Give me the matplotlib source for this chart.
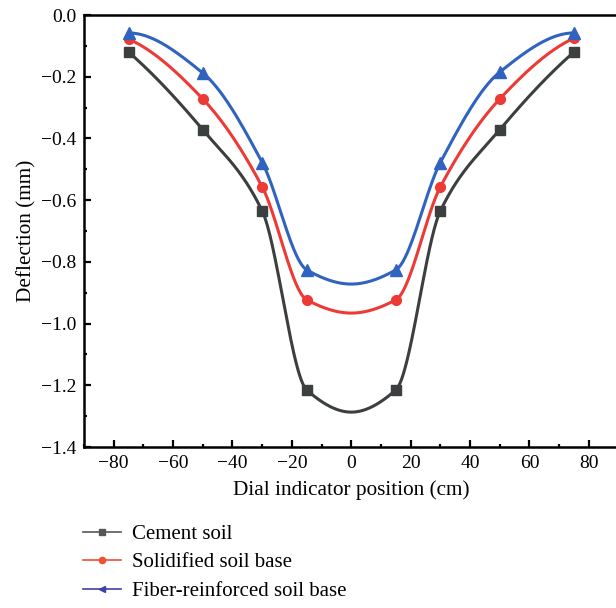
import numpy as np
import matplotlib
matplotlib.use("Agg")
import matplotlib.pyplot as plt
from matplotlib.lines import Line2D
from matplotlib.ticker import MultipleLocator, FuncFormatter

# ---- data ----
positions = [-75, -50, -30, -15, 0, 15, 30, 50, 75]
cement_soil = [-0.12, -0.372, -0.635, -1.215, -1.287, -1.215, -0.635, -0.372, -0.12]
solidified_soil = [-0.078, -0.272, -0.557, -0.923, -0.966, -0.923, -0.557, -0.272, -0.075]
fiber_soil = [-0.058, -0.188, -0.478, -0.826, -0.872, -0.826, -0.478, -0.185, -0.058]
marked = [0, 1, 2, 3, 5, 6, 7, 8]   # measured points drawn with markers
labels = ["Cement soil", "Solidified soil base", "Fiber-reinforced soil base"]


def pchip(x, y, n=600):
    x = np.asarray(x, float); y = np.asarray(y, float)
    h = np.diff(x); delta = np.diff(y) / h
    k = len(x); m = np.zeros(k)
    for i in range(1, k - 1):
        if delta[i - 1] * delta[i] > 0:
            w1 = 2 * h[i] + h[i - 1]; w2 = h[i] + 2 * h[i - 1]
            m[i] = (w1 + w2) / (w1 / delta[i - 1] + w2 / delta[i])
    def end(h0, h1, d0, d1):
        d = ((2 * h0 + h1) * d0 - h0 * d1) / (h0 + h1)
        if np.sign(d) != np.sign(d0):
            d = 0.0
        elif np.sign(d0) != np.sign(d1) and abs(d) > abs(3 * d0):
            d = 3 * d0
        return d
    m[0] = end(h[0], h[1], delta[0], delta[1])
    m[-1] = end(h[-1], h[-2], delta[-1], delta[-2])
    xs = np.linspace(x[0], x[-1], n)
    idx = np.clip(np.searchsorted(x, xs) - 1, 0, k - 2)
    t = (xs - x[idx]) / h[idx]
    h00 = 2 * t**3 - 3 * t**2 + 1; h10 = t**3 - 2 * t**2 + t
    h01 = -2 * t**3 + 3 * t**2; h11 = t**3 - t**2
    ys = h00 * y[idx] + h10 * h[idx] * m[idx] + h01 * y[idx + 1] + h11 * h[idx] * m[idx + 1]
    return xs, ys


plt.rcParams['font.family'] = ['Liberation Serif', 'DejaVu Serif']

fig = plt.figure(figsize=(6.16, 6.08), dpi=100)
ax = fig.add_axes([0.1364, 0.2648, 0.8677, 0.7105])

series = [
    (cement_soil, '#3c3f3f', 's', 7),
    (solidified_soil, '#ee3a36', 'o', 7),
    (fiber_soil, '#2f63bf', '^', 8),
]
for vals, col, mk, ms in series:
    xs, ys = pchip(positions, vals)
    ax.plot(xs, ys, color=col, lw=2.2, zorder=2)
    px = [positions[i] for i in marked]
    py = [vals[i] for i in marked]
    ax.plot(px, py, ls='none', marker=mk, ms=ms, color=col, zorder=3)

ax.set_xlim(-90, 90)
ax.set_ylim(-1.4, 0.0)
ax.xaxis.set_major_locator(MultipleLocator(20))
ax.xaxis.set_minor_locator(MultipleLocator(10))
ax.yaxis.set_major_locator(MultipleLocator(0.2))
ax.yaxis.set_minor_locator(MultipleLocator(0.1))
ax.xaxis.set_major_formatter(FuncFormatter(lambda v, p: f"{v:.0f}".replace('-', '\u2212')))
ax.yaxis.set_major_formatter(FuncFormatter(lambda v, p: (f"{v:.1f}" if abs(v) > 1e-9 else "0.0").replace('-', '\u2212')))

ax.tick_params(which='both', direction='in', top=False, right=False, labelsize=14, width=1.6, pad=5.5)
ax.tick_params(which='major', length=5)
ax.tick_params(which='minor', length=2.5)
for s in ax.spines.values():
    s.set_linewidth(1.8)

ax.set_xlabel("Dial indicator position (cm)", fontsize=15.3, labelpad=6)
ax.set_ylabel("Deflection (mm)", fontsize=15.3, labelpad=3)

handles = [
    Line2D([], [], color='#555757', lw=1.2, marker='s', ms=4.5),
    Line2D([], [], color='#f0502f', lw=1.2, marker='o', ms=4.5),
    Line2D([], [], color='#4040a6', lw=1.2, marker='<', ms=5),
]
fig.legend(handles, labels, loc='upper left', bbox_to_anchor=(0.1213, 0.1513),
           frameon=False, fontsize=15, handlelength=1.8, handletextpad=0.53,
           labelspacing=0.43, borderaxespad=0)

fig.savefig("out.png", dpi=100)
